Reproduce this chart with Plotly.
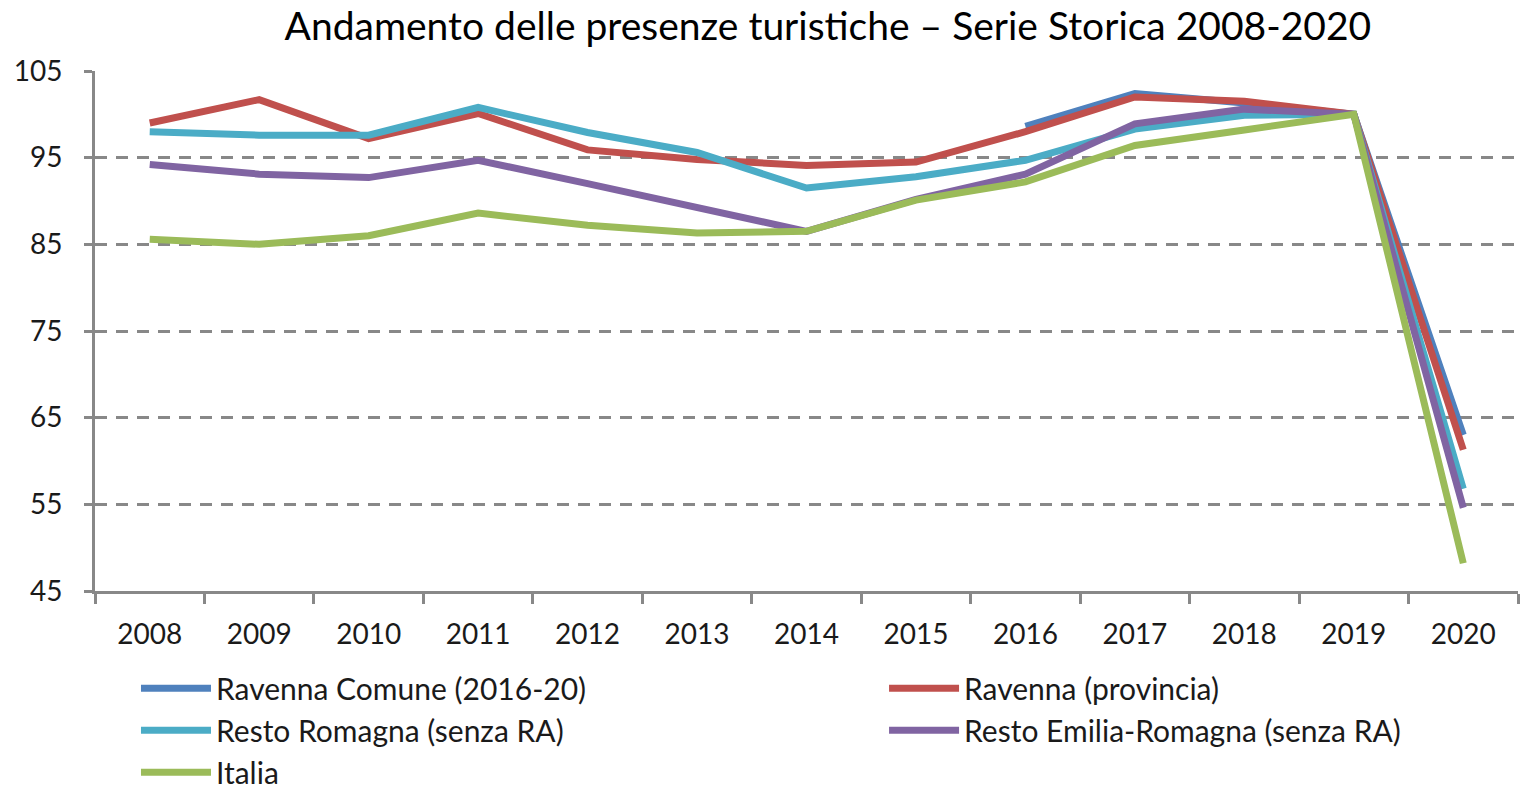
import plotly.graph_objects as go

years = ["2008", "2009", "2010", "2011", "2012", "2013", "2014",
         "2015", "2016", "2017", "2018", "2019", "2020"]

ravenna_comune = [None, None, None, None, None, None, None, None,
                  98.6, 102.4, 101.3, 100.0, 63.0]
ravenna_provincia = [99.0, 101.7, 97.2, 100.1, 95.9, 94.8, 94.1,
                     94.5, 98.0, 102.0, 101.5, 100.0, 61.3]
resto_romagna = [98.0, 97.6, 97.6, 100.8, 97.9, 95.6, 91.5,
                 92.8, 94.7, 98.3, 99.9, 100.0, 56.8]
resto_emilia = [94.2, 93.1, 92.7, 94.7, 92.0, 89.3, 86.5,
                90.2, 93.1, 98.9, 100.6, 100.0, 54.6]
italia = [85.6, 85.0, 86.0, 88.6, 87.2, 86.3, 86.5,
          90.1, 92.2, 96.4, 98.2, 100.0, 48.2]

# name, values, colour, legend column
series = [
    ("Ravenna Comune (2016-20)", ravenna_comune, "#4F81BD", "legend"),
    ("Ravenna (provincia)", ravenna_provincia, "#C0504D", "legend2"),
    ("Resto Romagna (senza RA)", resto_romagna, "#4BACC6", "legend"),
    ("Resto Emilia-Romagna (senza RA)", resto_emilia, "#8064A2", "legend2"),
    ("Italia", italia, "#9BBB59", "legend"),
]

FONT = "Lato"
GRID = "#888888"

fig = go.Figure()
for name, vals, color, leg in series:
    fig.add_trace(go.Scatter(
        x=years, y=vals, name=name, mode="lines",
        line=dict(color=color, width=7), connectgaps=False, legend=leg,
    ))

legend_style = dict(
    orientation="v", yanchor="top", y=-0.137, xanchor="left",
    font=dict(size=30, family=FONT, color="#1a1a1a"),
    bgcolor="rgba(0,0,0,0)", traceorder="normal", tracegroupgap=0,
    itemwidth=70,
)

# the page body adds an 8px offset, so the figure is sized 8px smaller
fig.update_layout(
    width=1524, height=779,
    paper_bgcolor="white", plot_bgcolor="white",
    margin=dict(l=87, r=14, t=63, b=196, autoexpand=False),
    font=dict(family=FONT, color="#1a1a1a"),
    title=dict(text="Andamento delle presenze turistiche – Serie Storica 2008-2020",
               x=0.538, xanchor="center", y=0.976, yanchor="middle",
               font=dict(size=39, family=FONT, color="#000")),
    xaxis=dict(
        type="category", range=[-0.5, 12.5], tickson="boundaries",
        showline=True, linecolor=GRID, linewidth=3,
        ticks="outside", ticklen=10, tickcolor=GRID, tickwidth=3,
        showgrid=False, tickfont=dict(size=28, family=FONT), ticklabelstandoff=16,
    ),
    yaxis=dict(
        range=[45, 105], tick0=45, dtick=10,
        showline=True, linecolor=GRID, linewidth=3,
        ticks="outside", ticklen=8, tickcolor=GRID, tickwidth=3,
        showgrid=True, gridcolor=GRID, gridwidth=3, griddash="12px,9px",
        zeroline=False, tickfont=dict(size=28, family=FONT), ticklabelstandoff=16,
    ),
    showlegend=True,
    legend=dict(x=0.0288, **legend_style),
    legend2=dict(x=0.5545, **legend_style),
)

fig.write_html("out.html")
